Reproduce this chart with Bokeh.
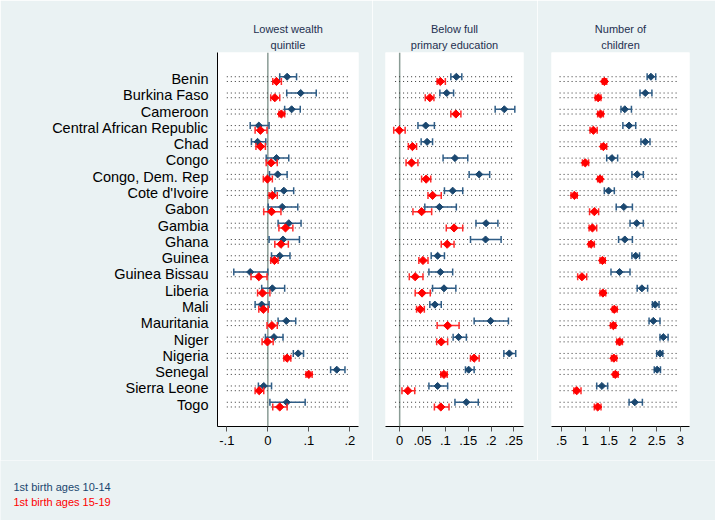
import numpy as np
from bokeh.plotting import figure
from bokeh.layouts import row, column
from bokeh.models import Range1d, FixedTicker, Span, Label, Title
from bokeh.embed import file_html
from bokeh.resources import INLINE

countries = ["Benin", "Burkina Faso", "Cameroon", "Central African Republic", "Chad",
             "Congo", "Congo, Dem. Rep", "Cote d'Ivoire", "Gabon", "Gambia", "Ghana",
             "Guinea", "Guinea Bissau", "Liberia", "Mali", "Mauritania", "Niger",
             "Nigeria", "Senegal", "Sierra Leone", "Togo"]

# Lowest wealth quintile
wealth_b = [0.047, 0.080, 0.058, -0.022, -0.025, 0.021, 0.024, 0.039, 0.035, 0.051, 0.037,
            0.029, -0.043, 0.011, -0.015, 0.045, 0.015, 0.074, 0.168, -0.010, 0.046]
wealth_b_lo = [0.029, 0.046, 0.041, -0.043, -0.040, -0.004, 0.004, 0.017, 0.001, 0.025, 0.003,
               0.009, -0.083, -0.015, -0.031, 0.025, -0.006, 0.062, 0.153, -0.023, 0.005]
wealth_b_hi = [0.070, 0.118, 0.079, 0.003, -0.005, 0.051, 0.047, 0.063, 0.073, 0.081, 0.077,
               0.054, 0.000, 0.041, 0.003, 0.068, 0.037, 0.087, 0.188, 0.009, 0.091]
wealth_r = [0.021, 0.017, 0.033, -0.018, -0.018, 0.008, -0.001, 0.011, 0.009, 0.043, 0.032,
            0.016, -0.022, -0.013, -0.011, 0.010, -0.001, 0.047, 0.100, -0.021, 0.029]
wealth_r_lo = [0.012, 0.007, 0.027, -0.031, -0.029, -0.004, -0.011, 0.003, -0.010, 0.027, 0.017,
               0.007, -0.041, -0.025, -0.022, -0.002, -0.014, 0.039, 0.093, -0.031, 0.012]
wealth_r_hi = [0.033, 0.029, 0.041, -0.002, -0.006, 0.023, 0.011, 0.023, 0.032, 0.061, 0.050,
               0.025, -0.002, 0.005, 0.001, 0.023, 0.013, 0.056, 0.108, -0.010, 0.047]

# Below full primary education
educ_b = [0.124, 0.103, 0.229, 0.057, 0.060, 0.121, 0.174, 0.116, 0.087, 0.189, 0.188,
          0.083, 0.089, 0.097, 0.077, 0.199, 0.129, 0.240, 0.151, 0.083, 0.146]
educ_b_lo = [0.112, 0.088, 0.209, 0.040, 0.047, 0.095, 0.152, 0.098, 0.055, 0.167, 0.155,
             0.069, 0.064, 0.072, 0.066, 0.163, 0.117, 0.228, 0.144, 0.064, 0.121]
educ_b_hi = [0.136, 0.118, 0.252, 0.076, 0.072, 0.149, 0.197, 0.138, 0.124, 0.215, 0.222,
             0.098, 0.116, 0.123, 0.091, 0.238, 0.146, 0.254, 0.163, 0.105, 0.172]
educ_r = [0.089, 0.066, 0.123, -0.001, 0.028, 0.026, 0.058, 0.072, 0.048, 0.119, 0.104,
          0.051, 0.034, 0.049, 0.045, 0.105, 0.091, 0.163, 0.097, 0.018, 0.090]
educ_r_lo = [0.082, 0.056, 0.112, -0.013, 0.019, 0.014, 0.048, 0.062, 0.029, 0.102, 0.091,
             0.042, 0.021, 0.034, 0.037, 0.082, 0.081, 0.155, 0.090, 0.005, 0.076]
educ_r_hi = [0.100, 0.075, 0.134, 0.012, 0.037, 0.040, 0.068, 0.091, 0.070, 0.138, 0.119,
             0.062, 0.051, 0.067, 0.054, 0.130, 0.105, 0.174, 0.104, 0.033, 0.108]

# Number of children
kids_b = [2.38, 2.26, 1.83, 1.92, 2.26, 1.56, 2.09, 1.49, 1.81, 2.08, 1.83,
          2.06, 1.72, 2.19, 2.47, 2.43, 2.64, 2.57, 2.51, 1.35, 2.04]
kids_b_lo = [2.30, 2.15, 1.75, 1.79, 2.17, 1.45, 1.98, 1.40, 1.65, 1.94, 1.70,
             1.98, 1.54, 2.09, 2.41, 2.34, 2.57, 2.50, 2.45, 1.24, 1.92]
kids_b_hi = [2.48, 2.40, 1.97, 2.06, 2.36, 1.68, 2.22, 1.61, 1.99, 2.22, 1.99,
             2.14, 1.94, 2.31, 2.55, 2.57, 2.74, 2.63, 2.58, 1.47, 2.20]
kids_r = [1.40, 1.27, 1.32, 1.17, 1.38, 1.00, 1.31, 0.77, 1.19, 1.15, 1.12,
          1.36, 0.93, 1.37, 1.61, 1.59, 1.72, 1.60, 1.63, 0.82, 1.26]
kids_r_lo = [1.36, 1.21, 1.26, 1.10, 1.33, 0.94, 1.26, 0.70, 1.09, 1.08, 1.07,
             1.31, 0.84, 1.31, 1.57, 1.53, 1.66, 1.55, 1.59, 0.76, 1.19]
kids_r_hi = [1.45, 1.33, 1.38, 1.25, 1.45, 1.07, 1.36, 0.83, 1.28, 1.24, 1.19,
             1.42, 1.03, 1.43, 1.67, 1.64, 1.78, 1.66, 1.69, 0.91, 1.33]

wealth_ticks = [-0.1, 0, 0.1, 0.2]
wealth_labels = ["-.1", "0", ".1", ".2"]
educ_ticks = [0, 0.05, 0.1, 0.15, 0.2, 0.25]
educ_labels = ["0", ".05", ".1", ".15", ".2", ".25"]
kids_ticks = [0.5, 1, 1.5, 2, 2.5, 3]
kids_labels = [".5", "1", "1.5", "2", "2.5", "3"]

legend_labels = ["1st birth ages 10-14", "1st birth ages 15-19"]

BG = "#eaf2f3"
NAVY = "#1a476f"
NAVY_BAR = "#2f5d86"
RED = "#ff0000"
RED_BAR = "#ff2b2b"
FONT = "Liberation Sans"

idx = np.arange(len(countries))
y_blue = idx - 0.145
y_red = idx + 0.145


def panel(title_lines, width, left, right, xr, dots, ticks, labels, est_b, lo_b, hi_b,
          est_r, lo_r, hi_r, zero=True, yaxis=False):
    p = figure(width=width, height=460, x_range=Range1d(*xr),
               y_range=Range1d(21.345, -1.635), output_backend="svg",
               toolbar_location=None, min_border_left=left, min_border_right=right,
               min_border_top=52, min_border_bottom=34, title=None)
    p.border_fill_color = BG
    p.background_fill_color = "white"
    p.outline_line_color = None
    p.grid.visible = False

    # second line closest to the frame, first line above it
    for i, line in enumerate(reversed(title_lines)):
        p.add_layout(Title(text=line, align="center", text_font=FONT,
                           text_font_size="11px", text_font_style="normal",
                           text_color="#1e3050", text_line_height=0.8,
                           standoff=4 if i == 0 else 0, offset=0), "above")

    if zero:
        p.add_layout(Span(location=0, dimension="height", line_color="#8a9c95",
                          line_width=1.5, level="underlay"))

    for yy in (y_blue, y_red):
        p.segment(x0=[dots[0]] * len(yy), x1=[dots[1]] * len(yy), y0=yy, y1=yy,
                  line_color="#333333", line_width=1, line_dash="1 3")

    for yy, est, lo, hi, mc, bc, sz in ((y_blue, est_b, lo_b, hi_b, NAVY, NAVY_BAR, 5),
                                        (y_red, est_r, lo_r, hi_r, RED, RED_BAR, 5.8)):
        p.segment(x0=lo, x1=hi, y0=yy, y1=yy, line_color=bc, line_width=1.5)
        p.scatter(x=list(lo) + list(hi), y=list(yy) + list(yy), marker="dash",
                  angle=np.pi / 2, size=7, line_color=bc, line_width=1.5)
        p.scatter(x=est, y=yy, marker="square", angle=np.pi / 4, size=sz,
                  fill_color=mc, line_color=mc, line_width=1)

    ax = p.xaxis[0]
    ax.ticker = FixedTicker(ticks=ticks)
    ax.major_label_overrides = dict(zip(ticks, labels))
    ax.minor_tick_line_color = None
    ax.major_tick_in = 0
    ax.major_tick_out = 5
    ax.major_tick_line_color = "#555555"
    ax.axis_line_color = "black"
    ax.major_label_standoff = 4
    ax.major_label_text_font = FONT
    ax.major_label_text_font_size = "13px"
    ax.major_label_text_color = "black"

    ya = p.yaxis[0]
    if yaxis:
        ya.ticker = FixedTicker(ticks=list(range(len(countries))))
        ya.major_label_overrides = {i: c for i, c in enumerate(countries)}
        ya.minor_tick_line_color = None
        ya.major_tick_line_color = None
        ya.axis_line_color = "black"
        ya.major_label_standoff = 3
        ya.major_label_text_font = FONT
        ya.major_label_text_font_size = "14.5px"
        ya.major_label_text_color = "black"
    else:
        ya.visible = False
    return p


p1 = panel(["Lowest wealth", "quintile"], 372, 217, 14, (-0.1227, 0.221), (-0.1, 0.2),
           wealth_ticks, wealth_labels, wealth_b, wealth_b_lo, wealth_b_hi,
           wealth_r, wealth_r_lo, wealth_r_hi, zero=True, yaxis=True)
p2 = panel(["Below full", "primary education"], 165, 13, 14, (-0.031, 0.271), (-0.01, 0.25),
           educ_ticks, educ_labels, educ_b, educ_b_lo, educ_b_hi,
           educ_r, educ_r_lo, educ_r_hi, zero=True)
p3 = panel(["Number of", "children"], 178, 14, 26, (0.29, 3.19), (0.46, 2.96),
           kids_ticks, kids_labels, kids_b, kids_b_lo, kids_b_hi,
           kids_r, kids_r_lo, kids_r_hi, zero=False)

leg = figure(width=715, height=60, x_range=Range1d(0, 1), y_range=Range1d(0, 1),
             output_backend="svg", toolbar_location=None, min_border=0)
leg.border_fill_color = BG
leg.background_fill_color = BG
leg.outline_line_color = None
leg.axis.visible = False
leg.grid.visible = False
for txt, col, yy in zip(legend_labels, (NAVY, RED), (34, 19)):
    leg.add_layout(Label(x=13, y=yy, x_units="screen", y_units="screen", text=txt,
                         text_color=col, text_font=FONT, text_font_size="11px",
                         text_baseline="middle"))

p = column(row(p1, p2, p3), leg)
open("out.html", "w").write(file_html(p, INLINE))
